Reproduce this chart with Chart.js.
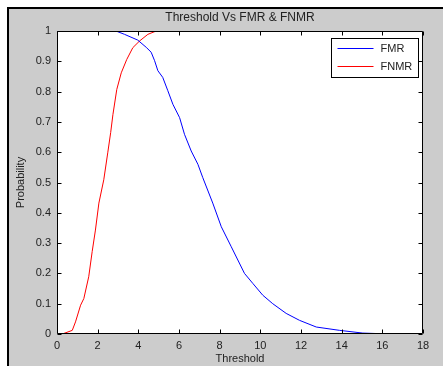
<!DOCTYPE html>
<html lang="en">
<head>
  <meta charset="UTF-8" />
  <title>Threshold Vs FMR & FNMR</title>
  <script src="https://cdn.jsdelivr.net/npm/chart.js"></script>
  <style>
    body {
      margin: 0;
      background: #ffffff;
      font-family: 'Liberation Sans', Arial, sans-serif;
    }
    #frame {
      position: absolute;
      left: 7px;
      top: 7px;
      width: 436px;
      height: 359px;
      box-sizing: border-box;
      background: #cccccc;
      border-left: 2px solid #000;
      border-top: 2px solid #000;
    }
    #wrap {
      position: absolute;
      left: 0;
      top: 0;
      width: 443px;
      height: 366px;
    }
  </style>
</head>
<body>
  <div id="frame"></div>
  <div id="wrap"><canvas id="chart"></canvas></div>

<script>
  // FMR curve (blue)
  const fmrX = [0, 2.9, 3.32, 3.97, 4.39, 4.63, 4.8, 4.96, 5.2, 5.45, 5.7, 6.03, 6.27, 6.6, 6.93, 7.17, 7.66, 8.08, 8.57, 9.22, 9.63, 10.12, 10.61, 11.27, 11.93, 12.75, 13.9, 15.04, 15.95];
  const fmrY = [1, 1, 0.989, 0.97, 0.946, 0.93, 0.902, 0.869, 0.847, 0.803, 0.758, 0.714, 0.659, 0.604, 0.56, 0.516, 0.432, 0.354, 0.288, 0.2, 0.167, 0.128, 0.1, 0.068, 0.045, 0.023, 0.012, 0.003, 0.001];

  // FNMR curve (red)
  const fnmrX = [0.26, 0.75, 0.91, 1.16, 1.32, 1.56, 1.73, 1.89, 2.06, 2.3, 2.5, 2.64, 2.75, 2.94, 3.16, 3.43, 3.73, 4.06, 4.47, 4.88, 16];
  const fnmrY = [0, 0.012, 0.04, 0.095, 0.117, 0.189, 0.272, 0.343, 0.432, 0.509, 0.6, 0.665, 0.724, 0.807, 0.862, 0.906, 0.945, 0.967, 0.989, 1.0, 1.0];

  const xTicks = [0, 2, 4, 6, 8, 10, 12, 14, 16, 18];
  const yTicks = [0, 0.1, 0.2, 0.3, 0.4, 0.5, 0.6, 0.7, 0.8, 0.9, 1];

  const toPoints = (xs, ys) => xs.map((x, i) => ({ x: x, y: ys[i] }));

  const FONT = { family: "'Liberation Sans', Arial, sans-serif", size: 11 };
  const TXT = '#222';

  // white axes background
  const axesBg = {
    id: 'axesBg',
    beforeDraw(chart) {
      const a = chart.chartArea, c = chart.ctx;
      c.save();
      c.fillStyle = '#fff';
      c.fillRect(a.left, a.top, a.right - a.left, a.bottom - a.top);
      c.restore();
    }
  };

  // MATLAB style box with inward ticks on all four sides, plus legend
  const axesBox = {
    id: 'axesBox',
    afterDraw(chart) {
      const a = chart.chartArea, c = chart.ctx;
      const xs = chart.scales.x, ys = chart.scales.y;
      const L = Math.round(a.left) + 0.5, R = Math.round(a.right) - 0.5;
      const T = Math.round(a.top) + 0.5, B = Math.round(a.bottom) - 0.5;
      const len = 4;
      c.save();
      c.strokeStyle = '#000';
      c.lineWidth = 1;
      c.beginPath();
      c.rect(L, T, R - L, B - T);
      xTicks.forEach(v => {
        const p = Math.round(xs.getPixelForValue(v)) + 0.5;
        c.moveTo(p, B); c.lineTo(p, B - len);
        c.moveTo(p, T); c.lineTo(p, T + len);
      });
      yTicks.forEach(v => {
        const p = Math.round(ys.getPixelForValue(v)) + 0.5;
        c.moveTo(L, p); c.lineTo(L + len, p);
        c.moveTo(R, p); c.lineTo(R - len, p);
      });
      c.stroke();

      const w = 87, h = 39;
      const lx = Math.round(a.right) - 5 - w + 0.5, ly = Math.round(a.top) + 7 + 0.5;
      c.fillStyle = '#fff';
      c.fillRect(lx, ly, w, h);
      c.strokeRect(lx, ly, w, h);
      c.font = FONT.size + 'px ' + FONT.family;
      c.textBaseline = 'middle';
      chart.data.datasets.forEach((ds, i) => {
        const yy = ly + 10 + i * 18;
        c.strokeStyle = ds.borderColor;
        c.beginPath();
        c.moveTo(lx + 6, yy); c.lineTo(lx + 42, yy);
        c.stroke();
        c.fillStyle = TXT;
        c.fillText(ds.label, lx + 49, yy);
      });
      c.restore();
    }
  };

  new Chart(document.getElementById('chart'), {
    type: 'line',
    data: {
      datasets: [
        { label: 'FMR', data: toPoints(fmrX, fmrY), borderColor: '#0000ff', borderWidth: 1, pointRadius: 0, tension: 0 },
        { label: 'FNMR', data: toPoints(fnmrX, fnmrY), borderColor: '#ff0000', borderWidth: 1, pointRadius: 0, tension: 0 }
      ]
    },
    options: {
      responsive: true,
      maintainAspectRatio: false,
      animation: false,
      layout: { padding: { top: 8, right: 20, bottom: 0, left: 8 } },
      plugins: {
        legend: { display: false },
        tooltip: { enabled: false },
        title: {
          display: true,
          text: 'Threshold Vs FMR & FNMR',
          color: TXT,
          font: { family: FONT.family, size: 12, weight: 'normal' },
          fullSize: false,
          padding: { top: 2, bottom: 6.6 }
        }
      },
      scales: {
        x: {
          type: 'linear',
          min: 0, max: 18,
          afterBuildTicks: s => { s.ticks = xTicks.map(v => ({ value: v })); },
          afterFit: s => { s.height = 32; },
          grid: { display: false, drawTicks: false },
          border: { display: false },
          ticks: { color: TXT, font: FONT, padding: 5, maxRotation: 0 },
          title: { display: true, text: 'Threshold', color: TXT, font: FONT, padding: { top: 0, bottom: 0 } }
        },
        y: {
          min: 0, max: 1,
          afterBuildTicks: s => { s.ticks = yTicks.map(v => ({ value: v })); },
          afterFit: s => { s.width = 49; },
          grid: { display: false, drawTicks: false },
          border: { display: false },
          ticks: { color: TXT, font: FONT, padding: 6, callback: v => String(v) },
          title: { display: true, text: 'Probability', color: TXT, font: FONT, padding: { top: 6, bottom: 0 } }
        }
      }
    },
    plugins: [axesBg, axesBox]
  });
</script>
</body>
</html>
